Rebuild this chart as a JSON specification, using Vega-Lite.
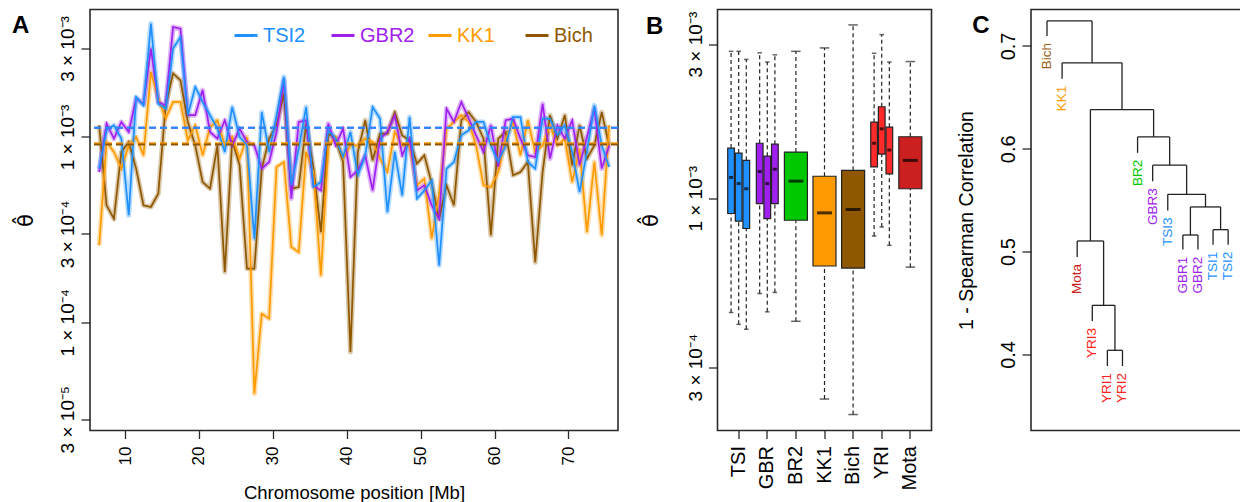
{
"$schema":"https://vega.github.io/schema/vega-lite/v6.json",
"background":"white",
"padding":{"left":11,"top":8.5,"right":-5,"bottom":0},
"bounds":"flush",
"spacing":99.5,
"config":{
 "font":"Liberation Sans",
 "view":{"stroke":"#2a2a2a","strokeWidth":1.6},
 "axis":{"domain":false,"grid":false,"ticks":true,"tickColor":"#2a2a2a","tickWidth":1.3,"tickSize":9,"labelColor":"#000","titleColor":"#000","labelFont":"Liberation Sans","titleFont":"Liberation Sans","titleFontWeight":"normal","labelOverlap":false,"labelFlush":false,"labelBound":false},
 "legend":{"labelFont":"Liberation Sans"},
 "title":{"font":"Liberation Sans"}
},
"datasets":{
"series":[
{"pos":6.5,"TSI2":0.675e-3,"GBR2":0.647e-3,"KK1":0.26e-3,"Bich":1.156e-3},
{"pos":7.5,"TSI2":1.086e-3,"GBR2":1.18e-3,"KK1":0.94e-3,"Bich":0.428e-3},
{"pos":8.5,"TSI2":1.156e-3,"GBR2":0.98e-3,"KK1":0.83e-3,"Bich":0.362e-3},
{"pos":9.5,"TSI2":0.98e-3,"GBR2":1.205e-3,"KK1":0.675e-3,"Bich":0.83e-3},
{"pos":10.5,"TSI2":0.378e-3,"GBR2":1.064e-3,"KK1":0.9e-3,"Bich":0.94e-3},
{"pos":11.5,"TSI2":1.64e-3,"GBR2":1.61e-3,"KK1":1.0e-3,"Bich":0.675e-3},
{"pos":12.5,"TSI2":1.48e-3,"GBR2":1.51e-3,"KK1":0.796e-3,"Bich":0.428e-3},
{"pos":13.5,"TSI2":4.09e-3,"GBR2":3.0e-3,"KK1":2.24e-3,"Bich":0.419e-3},
{"pos":14.5,"TSI2":1.51e-3,"GBR2":1.545e-3,"KK1":1.61e-3,"Bich":0.494e-3},
{"pos":15.5,"TSI2":1.42e-3,"GBR2":1.48e-3,"KK1":1.256e-3,"Bich":1.48e-3},
{"pos":16.5,"TSI2":3.0e-3,"GBR2":3.92e-3,"KK1":1.545e-3,"Bich":2.2e-3},
{"pos":17.5,"TSI2":3.46e-3,"GBR2":3.84e-3,"KK1":1.545e-3,"Bich":2.02e-3},
{"pos":18.5,"TSI2":1.31e-3,"GBR2":1.31e-3,"KK1":0.96e-3,"Bich":1.205e-3},
{"pos":19.5,"TSI2":1.86e-3,"GBR2":1.31e-3,"KK1":1.156e-3,"Bich":0.9e-3},
{"pos":20.5,"TSI2":1.545e-3,"GBR2":1.79e-3,"KK1":0.796e-3,"Bich":0.571e-3},
{"pos":21.5,"TSI2":1.31e-3,"GBR2":1.064e-3,"KK1":1.13e-3,"Bich":0.526e-3},
{"pos":22.5,"TSI2":1.11e-3,"GBR2":0.98e-3,"KK1":1.23e-3,"Bich":0.9e-3},
{"pos":23.5,"TSI2":0.83e-3,"GBR2":1.23e-3,"KK1":0.9e-3,"Bich":0.187e-3},
{"pos":24.5,"TSI2":1.45e-3,"GBR2":0.9e-3,"KK1":1.0e-3,"Bich":0.96e-3},
{"pos":25.5,"TSI2":1.0e-3,"GBR2":1.11e-3,"KK1":0.764e-3,"Bich":0.703e-3},
{"pos":26.5,"TSI2":0.9e-3,"GBR2":0.94e-3,"KK1":1.0e-3,"Bich":0.195e-3},
{"pos":27.5,"TSI2":0.283e-3,"GBR2":0.9e-3,"KK1":0.0412e-3,"Bich":0.195e-3},
{"pos":28.5,"TSI2":1.36e-3,"GBR2":0.675e-3,"KK1":0.1114e-3,"Bich":0.675e-3},
{"pos":29.5,"TSI2":0.83e-3,"GBR2":0.733e-3,"KK1":0.1047e-3,"Bich":0.98e-3},
{"pos":30.5,"TSI2":1.31e-3,"GBR2":1.064e-3,"KK1":0.689e-3,"Bich":1.156e-3},
{"pos":31.5,"TSI2":2.11e-3,"GBR2":2.02e-3,"KK1":0.733e-3,"Bich":1.71e-3},
{"pos":32.5,"TSI2":0.548e-3,"GBR2":0.465e-3,"KK1":0.255e-3,"Bich":0.526e-3},
{"pos":33.5,"TSI2":0.865e-3,"GBR2":1.205e-3,"KK1":0.239e-3,"Bich":0.537e-3},
{"pos":34.5,"TSI2":1.45e-3,"GBR2":1.23e-3,"KK1":0.83e-3,"Bich":1.18e-3},
{"pos":35.5,"TSI2":0.537e-3,"GBR2":0.548e-3,"KK1":0.647e-3,"Bich":0.675e-3},
{"pos":36.5,"TSI2":0.571e-3,"GBR2":0.515e-3,"KK1":0.179e-3,"Bich":0.307e-3},
{"pos":37.5,"TSI2":1.086e-3,"GBR2":1.18e-3,"KK1":0.9e-3,"Bich":1.042e-3},
{"pos":38.5,"TSI2":0.98e-3,"GBR2":0.9e-3,"KK1":1.0e-3,"Bich":0.98e-3},
{"pos":39.5,"TSI2":0.78e-3,"GBR2":1.11e-3,"KK1":0.764e-3,"Bich":0.733e-3},
{"pos":40.5,"TSI2":1.064e-3,"GBR2":0.608e-3,"KK1":0.9e-3,"Bich":0.0692e-3},
{"pos":41.5,"TSI2":0.621e-3,"GBR2":0.661e-3,"KK1":0.9e-3,"Bich":0.83e-3},
{"pos":42.5,"TSI2":0.796e-3,"GBR2":0.796e-3,"KK1":0.98e-3,"Bich":1.23e-3},
{"pos":43.5,"TSI2":1.45e-3,"GBR2":0.515e-3,"KK1":0.94e-3,"Bich":0.748e-3},
{"pos":44.5,"TSI2":1.256e-3,"GBR2":0.98e-3,"KK1":0.764e-3,"Bich":1.042e-3},
{"pos":45.5,"TSI2":0.394e-3,"GBR2":1.064e-3,"KK1":0.647e-3,"Bich":1.042e-3},
{"pos":46.5,"TSI2":0.83e-3,"GBR2":1.31e-3,"KK1":1.064e-3,"Bich":1.36e-3},
{"pos":47.5,"TSI2":0.484e-3,"GBR2":0.796e-3,"KK1":0.9e-3,"Bich":1.02e-3},
{"pos":48.5,"TSI2":1.28e-3,"GBR2":0.98e-3,"KK1":0.9e-3,"Bich":0.96e-3},
{"pos":49.5,"TSI2":0.465e-3,"GBR2":0.515e-3,"KK1":0.548e-3,"Bich":0.718e-3},
{"pos":50.5,"TSI2":0.515e-3,"GBR2":0.548e-3,"KK1":0.596e-3,"Bich":0.796e-3},
{"pos":51.5,"TSI2":0.583e-3,"GBR2":0.428e-3,"KK1":0.283e-3,"Bich":0.56e-3},
{"pos":52.5,"TSI2":0.203e-3,"GBR2":0.362e-3,"KK1":0.494e-3,"Bich":0.362e-3},
{"pos":53.5,"TSI2":0.675e-3,"GBR2":1.42e-3,"KK1":1.11e-3,"Bich":0.548e-3},
{"pos":54.5,"TSI2":0.733e-3,"GBR2":1.205e-3,"KK1":1.205e-3,"Bich":0.428e-3},
{"pos":55.5,"TSI2":1.02e-3,"GBR2":1.545e-3,"KK1":1.31e-3,"Bich":1.23e-3},
{"pos":56.5,"TSI2":1.086e-3,"GBR2":1.256e-3,"KK1":1.205e-3,"Bich":1.36e-3},
{"pos":57.5,"TSI2":1.205e-3,"GBR2":1.02e-3,"KK1":0.9e-3,"Bich":1.205e-3},
{"pos":58.5,"TSI2":1.205e-3,"GBR2":0.83e-3,"KK1":0.548e-3,"Bich":0.98e-3},
{"pos":59.5,"TSI2":0.9e-3,"GBR2":1.156e-3,"KK1":0.537e-3,"Bich":0.295e-3},
{"pos":60.5,"TSI2":0.733e-3,"GBR2":0.689e-3,"KK1":0.647e-3,"Bich":0.98e-3},
{"pos":61.5,"TSI2":0.9e-3,"GBR2":1.23e-3,"KK1":0.98e-3,"Bich":1.064e-3},
{"pos":62.5,"TSI2":1.28e-3,"GBR2":1.256e-3,"KK1":1.205e-3,"Bich":0.621e-3},
{"pos":63.5,"TSI2":1.28e-3,"GBR2":0.98e-3,"KK1":0.796e-3,"Bich":0.647e-3},
{"pos":64.5,"TSI2":0.733e-3,"GBR2":0.796e-3,"KK1":1.23e-3,"Bich":0.733e-3},
{"pos":65.5,"TSI2":0.675e-3,"GBR2":0.78e-3,"KK1":0.83e-3,"Bich":0.211e-3},
{"pos":66.5,"TSI2":1.256e-3,"GBR2":1.51e-3,"KK1":0.9e-3,"Bich":0.647e-3},
{"pos":67.5,"TSI2":1.256e-3,"GBR2":0.764e-3,"KK1":1.156e-3,"Bich":1.31e-3},
{"pos":68.5,"TSI2":1.02e-3,"GBR2":1.156e-3,"KK1":0.9e-3,"Bich":0.98e-3},
{"pos":69.5,"TSI2":1.156e-3,"GBR2":0.98e-3,"KK1":0.98e-3,"Bich":1.31e-3},
{"pos":70.5,"TSI2":0.83e-3,"GBR2":1.23e-3,"KK1":0.571e-3,"Bich":0.703e-3},
{"pos":71.5,"TSI2":0.505e-3,"GBR2":0.703e-3,"KK1":0.865e-3,"Bich":1.156e-3},
{"pos":72.5,"TSI2":0.83e-3,"GBR2":1.0e-3,"KK1":0.307e-3,"Bich":0.764e-3},
{"pos":73.5,"TSI2":1.48e-3,"GBR2":1.42e-3,"KK1":0.733e-3,"Bich":0.9e-3},
{"pos":74.5,"TSI2":0.9e-3,"GBR2":0.675e-3,"KK1":0.295e-3,"Bich":1.36e-3},
{"pos":75.5,"TSI2":0.689e-3,"GBR2":0.9e-3,"KK1":1.156e-3,"Bich":0.9e-3}
],
"medians":[
{"pop":"GBR2","theta":1.12e-3},
{"pop":"TSI2","theta":1.12e-3},
{"pop":"KK1","theta":0.925e-3},
{"pop":"Bich","theta":0.91e-3}
],
"boxes":[
{"group":"TSI","rep":"1","nrep":3,"lower":4.43e-4,"q1":8.97e-4,"median":1.16e-3,"q3":1.43e-3,"upper":2.85e-3},
{"group":"TSI","rep":"2","nrep":3,"lower":4.07e-4,"q1":8.49e-4,"median":1.11e-3,"q3":1.38e-3,"upper":2.85e-3},
{"group":"TSI","rep":"3","nrep":3,"lower":3.93e-4,"q1":8.06e-4,"median":1.07e-3,"q3":1.31e-3,"upper":2.69e-3},
{"group":"GBR","rep":"1","nrep":3,"lower":5.07e-4,"q1":9.62e-4,"median":1.21e-3,"q3":1.48e-3,"upper":2.82e-3},
{"group":"GBR","rep":"2","nrep":3,"lower":4.45e-4,"q1":8.65e-4,"median":1.11e-3,"q3":1.35e-3,"upper":2.64e-3},
{"group":"GBR","rep":"3","nrep":3,"lower":5.11e-4,"q1":9.62e-4,"median":1.23e-3,"q3":1.47e-3,"upper":2.78e-3},
{"group":"BR2","rep":"2","nrep":1,"lower":4.16e-4,"q1":8.55e-4,"median":1.13e-3,"q3":1.39e-3,"upper":2.85e-3},
{"group":"KK1","rep":"2","nrep":1,"lower":2.39e-4,"q1":6.17e-4,"median":9.01e-4,"q3":1.17e-3,"upper":2.92e-3},
{"group":"Bich","rep":"2","nrep":1,"lower":2.14e-4,"q1":6.08e-4,"median":9.23e-4,"q3":1.22e-3,"upper":3.44e-3},
{"group":"YRI","rep":"1","nrep":3,"lower":7.64e-4,"q1":1.25e-3,"median":1.48e-3,"q3":1.72e-3,"upper":2.81e-3},
{"group":"YRI","rep":"2","nrep":3,"lower":8.15e-4,"q1":1.37e-3,"median":1.64e-3,"q3":1.92e-3,"upper":3.21e-3},
{"group":"YRI","rep":"3","nrep":3,"lower":7.15e-4,"q1":1.19e-3,"median":1.41e-3,"q3":1.66e-3,"upper":2.64e-3},
{"group":"Mota","rep":"2","nrep":1,"lower":6.12e-4,"q1":1.07e-3,"median":1.31e-3,"q3":1.55e-3,"upper":2.65e-3}
],
"dendro":[
{"xa":1,"xb":3.984,"ya":0.7243,"yb":0.7243},{"xa":1,"xb":1,"ya":0.7243,"yb":0.7097},{"xa":3.984,"xb":3.984,"ya":0.7243,"yb":0.6835},
{"xa":2,"xb":5.969,"ya":0.6835,"yb":0.6835},{"xa":2,"xb":2,"ya":0.6835,"yb":0.668},{"xa":5.969,"xb":5.969,"ya":0.6835,"yb":0.638},
{"xa":3.875,"xb":8.0625,"ya":0.638,"yb":0.638},{"xa":3.875,"xb":3.875,"ya":0.638,"yb":0.5103},{"xa":8.0625,"xb":8.0625,"ya":0.638,"yb":0.6115},
{"xa":3,"xb":4.75,"ya":0.5103,"yb":0.5103},{"xa":3,"xb":3,"ya":0.5103,"yb":0.4947},{"xa":4.75,"xb":4.75,"ya":0.5103,"yb":0.4477},
{"xa":4,"xb":5.5,"ya":0.4477,"yb":0.4477},{"xa":4,"xb":4,"ya":0.4477,"yb":0.4325},{"xa":5.5,"xb":5.5,"ya":0.4477,"yb":0.404},
{"xa":5,"xb":6,"ya":0.404,"yb":0.404},{"xa":5,"xb":5,"ya":0.404,"yb":0.3887},{"xa":6,"xb":6,"ya":0.404,"yb":0.3887},
{"xa":7,"xb":9.125,"ya":0.6115,"yb":0.6115},{"xa":7,"xb":7,"ya":0.6115,"yb":0.596},{"xa":9.125,"xb":9.125,"ya":0.6115,"yb":0.584},
{"xa":8,"xb":10.25,"ya":0.584,"yb":0.584},{"xa":8,"xb":8,"ya":0.584,"yb":0.5683},{"xa":10.25,"xb":10.25,"ya":0.584,"yb":0.5557},
{"xa":9,"xb":11.5,"ya":0.5557,"yb":0.5557},{"xa":9,"xb":9,"ya":0.5557,"yb":0.54},{"xa":11.5,"xb":11.5,"ya":0.5557,"yb":0.5434},
{"xa":10.5,"xb":12.5,"ya":0.5434,"yb":0.5434},{"xa":10.5,"xb":10.5,"ya":0.5434,"yb":0.5161},{"xa":12.5,"xb":12.5,"ya":0.5434,"yb":0.5213},
{"xa":10,"xb":11,"ya":0.5161,"yb":0.5161},{"xa":10,"xb":10,"ya":0.5161,"yb":0.5019},{"xa":11,"xb":11,"ya":0.5161,"yb":0.5019},
{"xa":12,"xb":13,"ya":0.5213,"yb":0.5213},{"xa":12,"xb":12,"ya":0.5213,"yb":0.5067},{"xa":13,"xb":13,"ya":0.5213,"yb":0.5067}
],
"leaves":[
{"leaf":"Bich","idx":1,"end":0.7097,"group":"Bich"},
{"leaf":"KK1","idx":2,"end":0.668,"group":"KK1"},
{"leaf":"Mota","idx":3,"end":0.4947,"group":"Mota"},
{"leaf":"YRI3","idx":4,"end":0.4325,"group":"YRI"},
{"leaf":"YRI1","idx":5,"end":0.3887,"group":"YRI"},
{"leaf":"YRI2","idx":6,"end":0.3887,"group":"YRI"},
{"leaf":"BR2","idx":7,"end":0.596,"group":"BR2"},
{"leaf":"GBR3","idx":8,"end":0.5683,"group":"GBR"},
{"leaf":"TSI3","idx":9,"end":0.54,"group":"TSI"},
{"leaf":"GBR1","idx":10,"end":0.5019,"group":"GBR"},
{"leaf":"GBR2","idx":11,"end":0.5019,"group":"GBR"},
{"leaf":"TSI1","idx":12,"end":0.5067,"group":"TSI"},
{"leaf":"TSI2","idx":13,"end":0.5067,"group":"TSI"}
]
},
"resolve":{"scale":{"color":"independent","size":"independent"},"legend":{"color":"independent"}},
"hconcat":[
{
 "width":528,"height":421,
 "title":{"text":"A","anchor":"start","frame":"group","orient":"top","offset":-47.4,"baseline":"alphabetic","dx":-78,"fontSize":24,"fontWeight":"bold","color":"#000"},
 "layer":[
  {"data":{"name":"series"},"transform":[{"fold":["Bich","KK1","GBR2","TSI2"],"as":["pop","theta"]}],
   "mark":{"type":"line","strokeWidth":5,"opacity":0.33,"strokeJoin":"round","clip":true},
   "encoding":{
    "x":{"field":"pos","type":"quantitative","title":"Chromosome position [Mb]","scale":{"domain":[5.26,76.7],"nice":false,"zero":false},
      "axis":{"values":[10,20,30,40,50,60,70],"labelAngle":270,"labelAlign":"right","labelBaseline":"middle","labelPadding":7.5,"labelFontSize":17,"tickSize":8,"titleFontSize":18.5,"titlePadding":19}},
    "y":{"field":"theta","type":"quantitative","title":"θ̂","scale":{"type":"log","domain":[2.61e-5,4.87e-3],"nice":false},
      "axis":{"values":[3e-5,1e-4,3e-4,1e-3,3e-3],"labelExpr":"datum.value < 5e-5 ? '3 × 10⁻⁵' : datum.value < 2e-4 ? '1 × 10⁻⁴' : datum.value < 5e-4 ? '3 × 10⁻⁴' : datum.value < 2e-3 ? '1 × 10⁻³' : '3 × 10⁻³'","labelAngle":270,"labelAlign":"center","labelBaseline":"alphabetic","labelPadding":7.5,"labelFontSize":19,"tickSize":9,"titleFont":"DejaVu Sans","titleFontSize":21,"titlePadding":22,"titleAngle":270}},
    "color":{"field":"pop","type":"nominal","scale":{"domain":["TSI2","GBR2","KK1","Bich"],"range":["#1e90ff","#a020f0","#ff9a00","#8f5700"]},
      "legend":{"orient":"none","legendX":143,"legendY":13,"direction":"horizontal","columns":4,"gridAlign":"all","columnPadding":7,"title":null,"symbolType":"stroke","symbolSize":529,"symbolStrokeWidth":3,"symbolDash":[1,0],"symbolOpacity":1,"labelFontSize":20,"labelOffset":4,"padding":0,
        "encoding":{"labels":{"fill":{"value":{"expr":"datum.value === 'TSI2' ? '#1e90ff' : datum.value === 'GBR2' ? '#a020f0' : datum.value === 'KK1' ? '#ff9a00' : '#8f5700'"}}}}}}
   }},
  {"data":{"name":"series"},"transform":[{"fold":["Bich","KK1","GBR2","TSI2"],"as":["pop","theta"]}],
   "mark":{"type":"line","strokeWidth":1.7,"clip":true},
   "encoding":{
    "x":{"field":"pos","type":"quantitative","title":"Chromosome position [Mb]"},
    "y":{"field":"theta","type":"quantitative","title":"θ̂"},
    "color":{"field":"pop","type":"nominal"}
   }},
  {"data":{"name":"medians"},
   "mark":{"type":"rule","strokeDash":[7,4],"strokeWidth":2},
   "encoding":{
    "y":{"field":"theta","type":"quantitative","title":"θ̂"},
    "color":{"field":"pop","type":"nominal"}
   }}
 ]
},
{
 "width":214,"height":421,
 "title":{"text":"B","anchor":"start","frame":"group","orient":"top","offset":-48,"baseline":"alphabetic","dx":-71.6,"fontSize":24,"fontWeight":"bold","color":"#000"},
 "data":{"name":"boxes"},
 "encoding":{
  "x":{"field":"group","type":"nominal","scale":{"domain":["TSI","GBR","BR2","KK1","Bich","YRI","Mota"],"paddingInner":0,"paddingOuter":0.24},
    "axis":{"title":null,"labelAngle":270,"labelAlign":"right","labelBaseline":"middle","labelPadding":7,"labelFontSize":20,"tickSize":8}},
  "xOffset":{"field":"rep","type":"nominal","scale":{"domain":["1","2","3"],"paddingInner":0,"paddingOuter":0.38}}
 },
 "layer":[
  {"mark":{"type":"rule","strokeDash":[4,3],"strokeWidth":1.2,"color":"#222"},
   "encoding":{"y":{"field":"q3","type":"quantitative","title":"θ̂","scale":{"type":"log","domain":[1.91e-4,3.84e-3],"nice":false},
     "axis":{"values":[3e-4,1e-3,3e-3],"labelExpr":"datum.value < 5e-4 ? '3 × 10⁻⁴' : datum.value < 2e-3 ? '1 × 10⁻³' : '3 × 10⁻³'","labelAngle":270,"labelAlign":"center","labelBaseline":"alphabetic","labelPadding":7.5,"labelFontSize":19,"tickSize":9,"titleFont":"DejaVu Sans","titleFontSize":21,"titlePadding":25,"titleAngle":270}},
    "y2":{"field":"upper"}}},
  {"mark":{"type":"rule","strokeDash":[4,3],"strokeWidth":1.2,"color":"#222"},
   "encoding":{"y":{"field":"lower","type":"quantitative","title":"θ̂"},"y2":{"field":"q1"}}},
  {"mark":{"type":"bar","stroke":"#222","strokeWidth":1.2,"opacity":1},
   "encoding":{"y":{"field":"q1","type":"quantitative","title":"θ̂"},"y2":{"field":"q3"},
    "color":{"field":"group","type":"nominal","scale":{"domain":["TSI","GBR","BR2","KK1","Bich","YRI","Mota"],"range":["#1e90ff","#a020f0","#00c800","#ff9a00","#8f5700","#ff2a2a","#cc2020"]},"legend":null},
    "size":{"field":"nrep","type":"quantitative","scale":{"domain":[1,3],"range":[23,6.7],"zero":false},"legend":null}}},
  {"mark":{"type":"tick","color":"#222","thickness":1.5},
   "encoding":{"y":{"field":"upper","type":"quantitative","title":"θ̂"},
    "size":{"field":"nrep","type":"quantitative","scale":{"domain":[1,3],"range":[9.5,4.5],"zero":false},"legend":null}}},
  {"mark":{"type":"tick","color":"#222","thickness":1.5},
   "encoding":{"y":{"field":"lower","type":"quantitative","title":"θ̂"},
    "size":{"field":"nrep","type":"quantitative","scale":{"domain":[1,3],"range":[9.5,4.5],"zero":false},"legend":null}}},
  {"mark":{"type":"tick","color":"#000","thickness":3},
   "encoding":{"y":{"field":"median","type":"quantitative","title":"θ̂"},
    "size":{"field":"nrep","type":"quantitative","scale":{"domain":[1,3],"range":[15,4],"zero":false},"legend":null}}}
 ],
 "resolve":{"scale":{"size":"independent"}}
},
{
 "width":213,"height":421,
 "title":{"text":"C","anchor":"start","frame":"group","orient":"top","offset":-47,"baseline":"alphabetic","dx":-58.7,"fontSize":24,"fontWeight":"bold","color":"#000"},
 "layer":[
  {"data":{"name":"dendro"},
   "mark":{"type":"rule","color":"#222","strokeWidth":1.3},
   "encoding":{
    "x":{"field":"xa","type":"quantitative","scale":{"domain":[-0.06,14.05],"nice":false,"zero":false},"axis":null},
    "x2":{"field":"xb"},
    "y":{"field":"ya","type":"quantitative","title":"1 - Spearman Correlation","scale":{"domain":[0.326,0.7354],"nice":false,"zero":false},
      "axis":{"values":[0.4,0.5,0.6,0.7],"format":".1f","labelAngle":270,"labelAlign":"center","labelBaseline":"alphabetic","labelPadding":7.5,"labelFontSize":20,"tickSize":9,"titleFontSize":19.5,"titlePadding":22,"titleAngle":270}},
    "y2":{"field":"yb"}
   }},
  {"data":{"name":"leaves"},
   "mark":{"type":"text","angle":270,"align":"right","baseline":"middle","dx":-7,"fontSize":13.5,"font":"Liberation Sans"},
   "encoding":{
    "x":{"field":"idx","type":"quantitative","axis":null},
    "y":{"field":"end","type":"quantitative","title":"1 - Spearman Correlation"},
    "text":{"field":"leaf"},
    "color":{"field":"group","type":"nominal","scale":{"domain":["Bich","KK1","Mota","YRI","BR2","GBR","TSI"],"range":["#9c5c14","#ff9a00","#cc2020","#ff2020","#00c800","#a020f0","#1e90ff"]},"legend":null}
   }}
 ]
}
]
}
